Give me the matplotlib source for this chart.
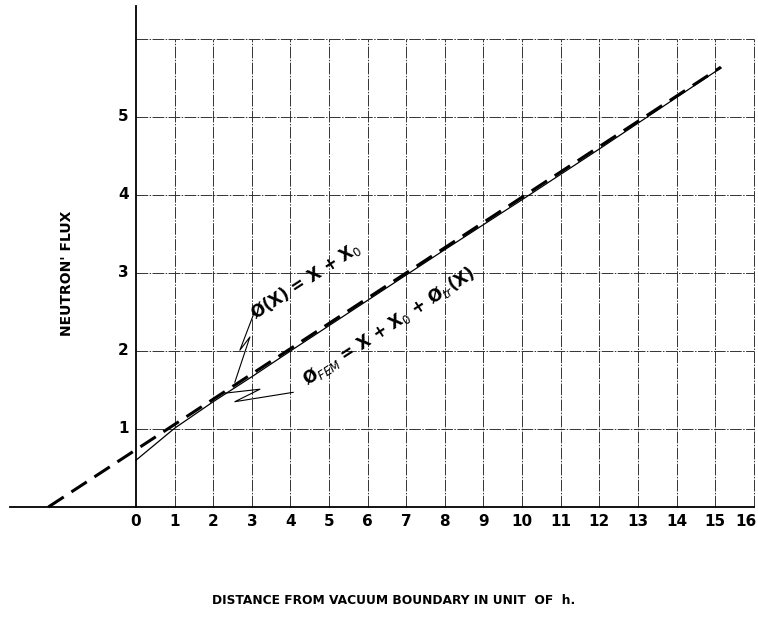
import matplotlib
matplotlib.use("Agg")
import matplotlib.pyplot as plt
import numpy as np

# values
x_ticks = list(range(0, 17))
y_ticks = [1, 2, 3, 4, 5]
grid_top = 6.0

# phi(x) = x + x0 (dashed, asymptotic)
asym_x = [-2.27, 15.15]
asym_y = [0.0, 5.64]

# phi_FEM = x + x0 + phi_tr(x) (thin solid)
fem_x = [0, 1, 2, 3, 4, 6, 8, 10, 12, 15.15]
fem_y = [0.60, 1.01, 1.35, 1.67, 2.00, 2.65, 3.30, 3.94, 4.59, 5.63]

# leader "lightning" marks from the labels to the curves
bolt_asym_x = [3.06, 2.69, 2.95, 2.56]
bolt_asym_y = [2.49, 2.01, 2.18, 1.60]
bolt_fem_x = [4.07, 2.56, 3.21, 2.31]
bolt_fem_y = [1.47, 1.35, 1.51, 1.46]

fig = plt.figure(figsize=(7.58, 6.19), dpi=100)
ax = fig.add_axes([0, 0, 1, 1])
ax.set_xlim(-3.523, 16.11)
ax.set_ylim(-1.436, 6.5)
ax.axis("off")

grid_kw = dict(color="#333333", lw=0.7, ls=(0, (12, 1.5, 1.5, 1.5)), zorder=1)
for xv in x_ticks[1:]:
    ax.plot([xv, xv], [0, grid_top], **grid_kw)
for yv in y_ticks + [grid_top]:
    ax.plot([0, x_ticks[-1]], [yv, yv], **grid_kw)

# axes drawn like the original sheet
ax.plot([-3.26, x_ticks[-1]], [0, 0], color="black", lw=1.3, zorder=2)
ax.plot([0, 0], [0, 6.42], color="black", lw=1.3, zorder=2)

ax.plot(asym_x, asym_y, color="black", lw=2.2, ls=(0, (6, 3)), zorder=3)
ax.plot(fem_x, fem_y, color="black", lw=0.9, zorder=3)

ax.plot(bolt_asym_x, bolt_asym_y, color="black", lw=0.8, zorder=3)
ax.plot(bolt_fem_x, bolt_fem_y, color="black", lw=0.8, zorder=3)

for xv in x_ticks:
    xpos = xv - 0.2 if xv == x_ticks[-1] else xv
    ax.text(xpos, -0.19, str(xv), ha="center", va="center",
            fontsize=11, fontweight="bold")
for yv in y_ticks:
    ax.text(-0.33, yv, str(yv), ha="center", va="center",
            fontsize=11, fontweight="bold")

ang = 33
ax.text(4.40, 2.91, "Ø(X) = X + X$_0$", rotation=ang, rotation_mode="anchor",
        ha="center", va="center", fontsize=12, fontweight="bold")
ax.text(6.55, 2.32, "Ø$_{FEM}$ = X + X$_0$ + Ø$_{tr}$(X)", rotation=ang,
        rotation_mode="anchor", ha="center", va="center", fontsize=12,
        fontweight="bold")

ax.text(-1.79, 2.99, "NEUTRON' FLUX", rotation=90, ha="center", va="center",
        fontsize=10, fontweight="bold")
ax.text(6.66, -1.205, "DISTANCE FROM VACUUM BOUNDARY IN UNIT  OF  h.",
        ha="center", va="center", fontsize=8.8, fontweight="bold")

fig.savefig("out.png", dpi=100)
